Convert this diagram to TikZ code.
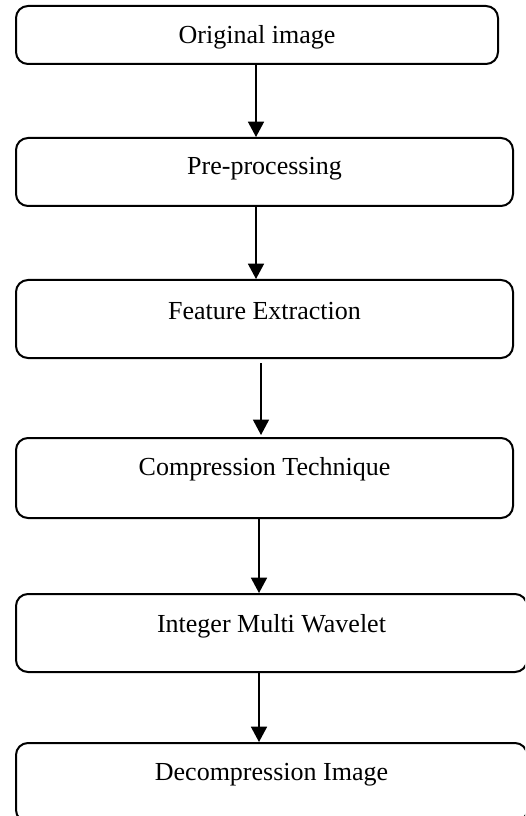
\documentclass[tikz,border=0pt]{standalone}
\usepackage{fontspec}
\setmainfont{Liberation Serif}
\usetikzlibrary{arrows.meta}
\begin{document}
\begin{tikzpicture}[x=0.75pt,y=-0.75pt,
  stepbox/.style={draw, line width=1.5pt, rounded corners=9pt, inner sep=0pt},
  steptext/.style={font=\fontsize{19.5pt}{22pt}\selectfont, inner sep=0pt},
  arr/.style={line width=1.2pt, -{Triangle[length=11.5pt,width=12pt]}}]
\clip (0,0) rectangle (525,816);
\node[stepbox, minimum width=482*0.75pt, minimum height=58*0.75pt] (b1) at (257,35) {};
\node[stepbox, minimum width=497*0.75pt, minimum height=68*0.75pt] (b2) at (264.5,172) {};
\node[stepbox, minimum width=497*0.75pt, minimum height=78*0.75pt] (b3) at (264.5,319) {};
\node[stepbox, minimum width=497*0.75pt, minimum height=80*0.75pt] (b4) at (264.5,478) {};
\node[stepbox, minimum width=511*0.75pt, minimum height=78*0.75pt] (b5) at (271.5,633) {};
\node[stepbox, minimum width=511*0.75pt, minimum height=79*0.75pt] (b6) at (271.5,782.5) {};
\node[steptext] (t1) at ([yshift=-32*0.75pt]b1.north) {Original image};
\node[steptext] (t2) at ([yshift=-32*0.75pt]b2.north) {Pre-processing};
\node[steptext] (t3) at ([yshift=-32*0.75pt]b3.north) {Feature Extraction};
\node[steptext] (t4) at ([yshift=-32*0.75pt]b4.north) {Compression Technique};
\node[steptext] (t5) at ([yshift=-33*0.75pt]b5.north) {Integer Multi Wavelet};
\node[steptext] (t6) at ([yshift=-33*0.75pt]b6.north) {Decompression Image};
\draw[arr] ([xshift=-1*0.75pt]b1.south) -- ([xshift=-1*0.75pt]b1.south |- b2.north);
\draw[arr] ([xshift=-8.5*0.75pt]b2.south) -- ([xshift=-8.5*0.75pt]b2.south |- b3.north);
\draw[arr, line width=1pt, shorten <=4*0.75pt, shorten >=2*0.75pt] ([xshift=-3.5*0.75pt]b3.south) -- ([xshift=-3.5*0.75pt]b3.south |- b4.north);
\draw[arr] ([xshift=-5.5*0.75pt]b4.south) -- ([xshift=-5.5*0.75pt]b4.south |- b5.north);
\draw[arr] ([xshift=-12.5*0.75pt]b5.south) -- ([xshift=-12.5*0.75pt]b5.south |- b6.north);
\end{tikzpicture}
\end{document}
